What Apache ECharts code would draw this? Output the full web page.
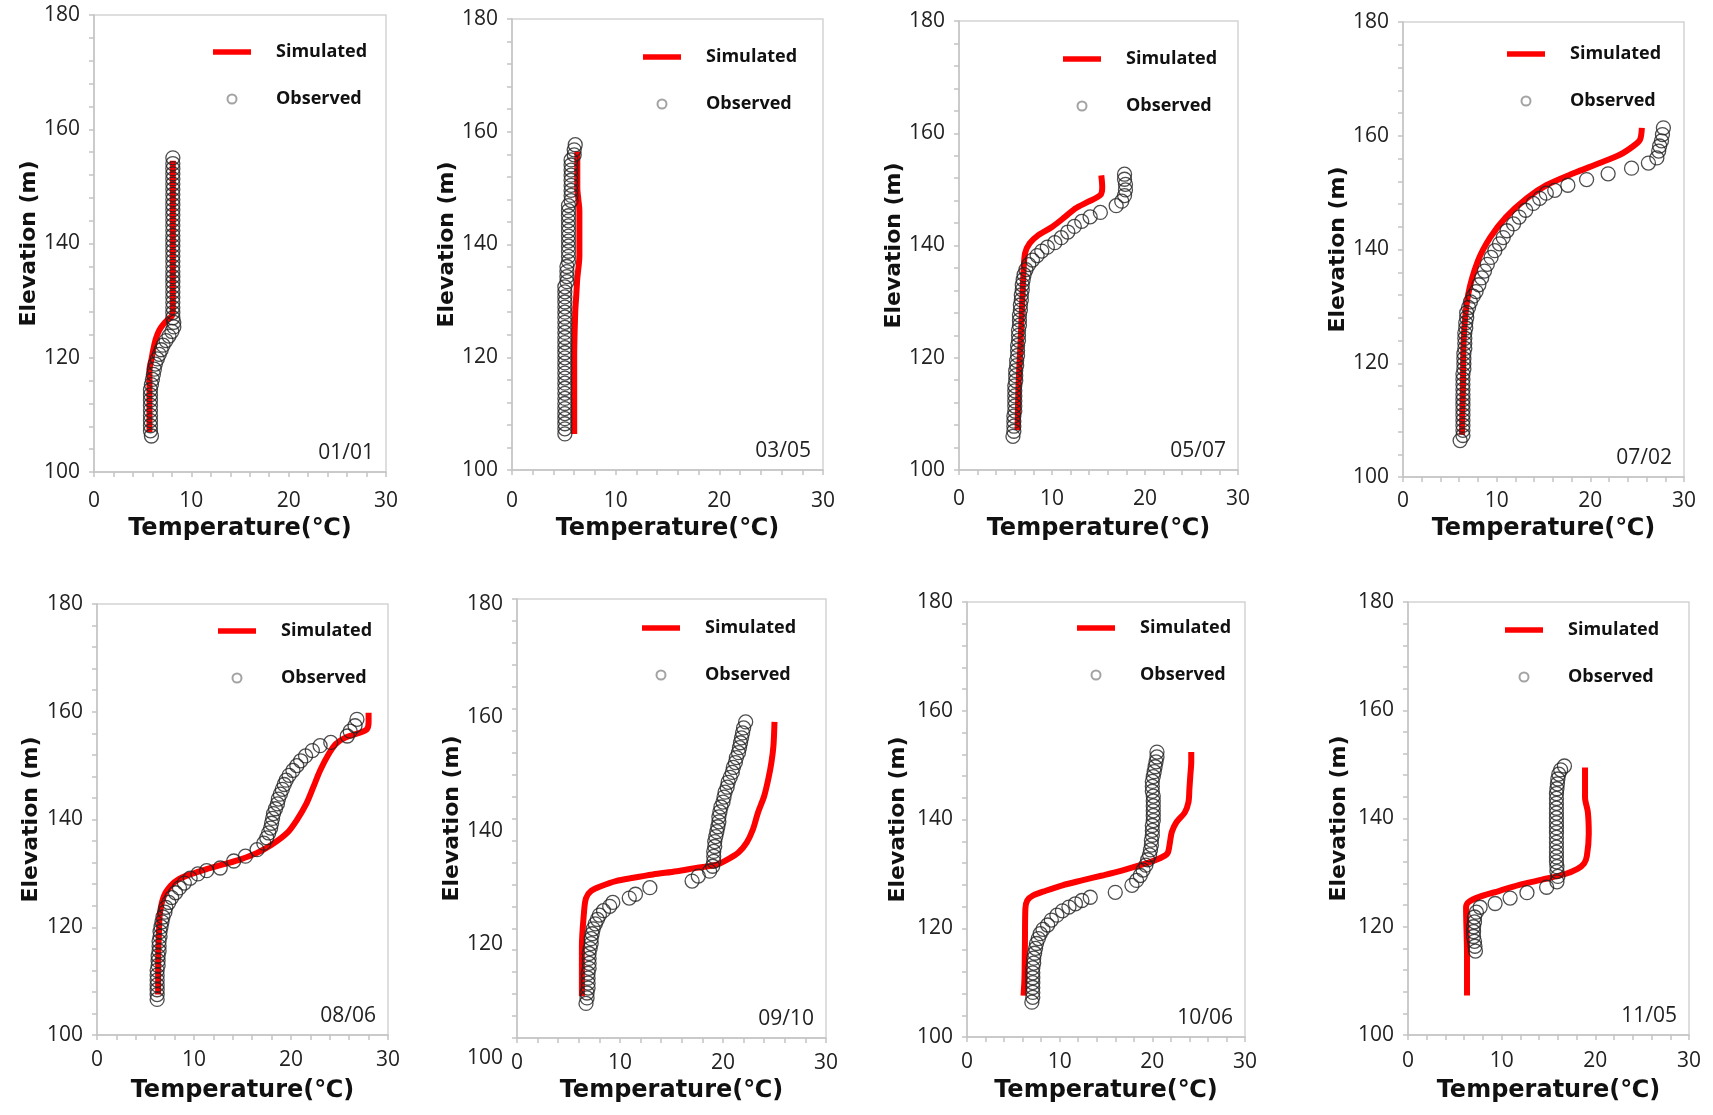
<!DOCTYPE html>
<html style="height: 100%">
<head>
<meta charset="utf-8">
<title>Temperature profiles</title>
</head>
<body style="height: 100%; margin: 0; background: #fff">
<div id="container" style="width: 1713px; height: 1115px"></div>
<script type="text/javascript" src="https://cdn.jsdelivr.net/npm/echarts@6.0.0/dist/echarts.min.js"></script>
<script type="text/javascript">
// axis ranges and tick steps
var tempMin = 0, tempMax = 30, tempStep = 10;
var elevMin = 100, elevMax = 180, elevStep = 20;

var dates = ['01/01', '03/05', '05/07', '07/02', '08/06', '09/10', '10/06', '11/05'];

// [temperature, elevation] pairs
var sim0101 = [[5.7,107],[5.7,113],[5.7,117.9],[5.9,119.7],[6.1,121.5],[6.35,123.3],[6.7,124.8],[7.1,125.8],[7.6,126.7],[8.0,127.3],[8.1,128.2],[8.1,154.5]];
var obs0101 = [[5.9,106.3],[5.8,107.2],[5.8,108.1],[5.8,109.0],[5.8,109.9],[5.8,110.8],[5.8,111.7],[5.8,112.6],[5.8,113.5],[5.8,114.4],[5.9,115.3],[6.0,116.2],[6.1,117.1],[6.2,118.0],[6.3,118.9],[6.5,119.8],[6.7,120.6],[6.9,121.4],[7.1,122.2],[7.4,123.0],[7.7,123.8],[8.0,124.6],[8.2,125.4],[8.2,126.2],[8.1,127.0],[8.1,127.9],[8.1,128.8],[8.1,129.7],[8.1,130.6],[8.1,131.5],[8.1,132.4],[8.1,133.3],[8.1,134.2],[8.1,135.1],[8.1,136.0],[8.1,136.9],[8.1,137.8],[8.1,138.7],[8.1,139.6],[8.1,140.5],[8.1,141.4],[8.1,142.3],[8.1,143.2],[8.1,144.1],[8.1,145.0],[8.1,145.9],[8.1,146.8],[8.1,147.7],[8.1,148.6],[8.1,149.5],[8.1,150.4],[8.1,151.3],[8.1,152.2],[8.1,153.1],[8.1,154.0],[8.1,155.0]];

var sim0305 = [[6.0,106.4],[6.0,120],[6.1,128],[6.2,131],[6.3,134],[6.5,138],[6.5,146],[6.4,148],[6.3,150],[6.3,156.5]];
var obs0305 = [[5.1,106.4],[5.1,107.3],[5.1,108.2],[5.1,109.1],[5.1,110.0],[5.1,110.9],[5.1,111.8],[5.1,112.7],[5.1,113.6],[5.1,114.5],[5.1,115.4],[5.1,116.3],[5.1,117.2],[5.1,118.1],[5.1,119.0],[5.1,119.9],[5.1,120.8],[5.1,121.7],[5.1,122.6],[5.1,123.5],[5.1,124.4],[5.1,125.3],[5.1,126.2],[5.1,127.1],[5.1,128.0],[5.1,128.9],[5.1,129.8],[5.1,130.7],[5.1,131.6],[5.1,132.5],[5.3,133.4],[5.3,134.3],[5.3,135.2],[5.3,136.1],[5.45,137.0],[5.45,137.9],[5.45,138.8],[5.45,139.7],[5.45,140.6],[5.45,141.5],[5.45,142.4],[5.45,143.3],[5.45,144.2],[5.45,145.1],[5.45,146.0],[5.45,146.9],[5.7,147.8],[5.7,148.7],[5.7,149.6],[5.7,150.5],[5.7,151.4],[5.7,152.3],[5.7,153.2],[5.7,154.1],[5.7,155.0],[6.0,155.9],[6.0,156.8],[6.1,157.7]];

var sim0507 = [[6.3,107.1],[6.4,115],[6.6,122],[6.8,130],[6.9,134],[7.1,138.6],[7.6,140.4],[8.5,141.8],[10.0,143.3],[11.4,145.1],[12.5,146.6],[13.9,147.8],[15.2,149],[15.4,150.4],[15.3,152.5]];
var obs0507 = [[5.8,106.0],[5.9,106.9],[5.9,107.8],[5.9,108.7],[5.9,109.6],[6.0,110.5],[6.0,111.4],[6.0,112.3],[6.0,113.2],[6.0,114.1],[6.0,115.0],[6.1,115.9],[6.1,116.8],[6.1,117.7],[6.2,118.6],[6.2,119.5],[6.3,120.4],[6.3,121.3],[6.3,122.2],[6.4,123.1],[6.4,124.0],[6.4,124.9],[6.5,125.8],[6.5,126.7],[6.5,127.6],[6.6,128.5],[6.6,129.4],[6.7,130.3],[6.7,131.2],[6.8,132.1],[6.8,133.0],[6.9,133.9],[7.0,134.8],[7.2,135.7],[7.5,136.6],[7.9,137.4],[8.4,138.2],[8.9,139.0],[9.5,139.7],[10.3,140.5],[11.0,141.4],[11.7,142.4],[12.4,143.4],[13.2,144.3],[14.1,145.1],[15.2,145.9],[16.9,147.1],[17.5,147.9],[17.8,148.9],[17.9,149.9],[17.9,150.9],[17.8,151.8],[17.8,152.7]];

var sim0702 = [[6.3,107.4],[6.4,116],[6.5,124.9],[6.95,132.0],[8.0,138.0],[9.3,142.1],[11.0,145.7],[13.2,149.0],[15.3,151.3],[18.2,153.4],[21.0,155.2],[23.2,156.7],[24.6,158.2],[25.3,159.3],[25.5,161.4]];
var obs0702 = [[6.1,106.4],[6.4,107.3],[6.4,108.2],[6.4,109.1],[6.4,110.0],[6.4,110.9],[6.4,111.8],[6.4,112.7],[6.4,113.6],[6.4,114.5],[6.4,115.4],[6.4,116.3],[6.4,117.2],[6.4,118.1],[6.5,119.0],[6.5,119.9],[6.5,120.8],[6.5,121.7],[6.6,122.6],[6.6,123.5],[6.6,124.4],[6.6,125.3],[6.7,126.2],[6.7,127.1],[6.8,128.0],[6.8,128.9],[7.0,129.8],[7.2,130.8],[7.5,131.8],[7.8,132.6],[8.1,133.8],[8.4,135.0],[8.7,136.2],[9.0,137.4],[9.4,138.6],[9.8,139.8],[10.3,141.0],[10.7,142.1],[11.1,143.3],[11.8,144.5],[12.4,145.7],[13.1,146.9],[13.9,148.1],[14.6,149.0],[15.3,149.9],[16.2,150.4],[17.6,151.3],[19.6,152.3],[21.9,153.3],[24.4,154.3],[26.2,155.2],[27.1,156.1],[27.3,157.3],[27.4,158.2],[27.6,159.1],[27.7,160.2],[27.8,161.4]];

var sim0806 = [[6.3,107.5],[6.3,113],[6.4,119.7],[6.5,122.8],[6.9,125.8],[7.6,127.7],[8.4,128.9],[9.6,129.8],[11.3,130.8],[13.1,131.7],[14.8,132.6],[16.5,133.8],[18.0,135.3],[19.6,137.5],[20.6,139.9],[21.6,143.0],[22.3,146.0],[23.0,149.1],[23.9,152.2],[24.6,154.0],[25.6,155.2],[27.1,156.1],[27.8,156.7],[28.0,158.0],[28.0,159.8]];
var obs0806 = [[6.2,106.6],[6.2,107.5],[6.2,108.4],[6.2,109.3],[6.2,110.2],[6.2,111.1],[6.2,112.0],[6.3,112.9],[6.3,113.8],[6.3,114.7],[6.4,115.6],[6.4,116.5],[6.4,117.4],[6.5,118.3],[6.5,119.2],[6.6,120.1],[6.7,121.0],[6.8,121.9],[7.0,122.8],[7.1,123.7],[7.4,124.6],[7.7,125.5],[8.1,126.4],[8.5,127.3],[9.0,128.2],[9.6,129.1],[10.4,129.9],[11.3,130.5],[12.7,131.0],[14.1,132.3],[15.3,133.2],[16.5,134.4],[17.2,135.6],[17.5,136.6],[17.7,137.5],[17.9,138.4],[18.0,139.3],[18.1,140.2],[18.2,141.1],[18.4,142.0],[18.6,142.9],[18.7,143.8],[18.9,144.7],[19.1,145.6],[19.3,146.5],[19.5,147.3],[19.8,148.2],[20.2,149.1],[20.6,150.0],[21.0,150.9],[21.5,151.8],[22.2,152.8],[23.0,153.7],[24.1,154.3],[25.8,155.5],[26.1,156.4],[26.6,157.4],[26.8,158.6]];

var sim0910 = [[6.3,107.6],[6.3,116.7],[6.5,122.8],[6.7,125.5],[7.2,126.8],[8.2,127.7],[9.6,128.6],[11.3,129.2],[13.2,129.8],[15.5,130.4],[17.4,131.0],[19.4,131.6],[20.5,132.6],[21.5,133.8],[22.3,135.6],[22.9,138.0],[23.4,141.1],[24.0,144.1],[24.4,147.2],[24.7,150.2],[24.9,153.3],[25.0,157.6]];
var obs0910 = [[6.7,106.3],[6.8,107.3],[6.8,108.2],[6.9,109.1],[6.9,110.0],[6.9,110.9],[6.9,111.8],[7.0,112.7],[7.0,113.6],[7.0,114.5],[7.0,115.4],[7.1,116.3],[7.2,117.2],[7.2,118.1],[7.3,119.0],[7.4,119.9],[7.6,120.8],[7.8,121.6],[8.0,122.4],[8.4,123.2],[9.0,124.0],[9.3,124.7],[10.9,125.5],[11.5,126.2],[12.9,127.4],[17.0,128.6],[17.6,129.5],[18.7,130.4],[19.0,131.3],[19.1,132.2],[19.1,133.1],[19.1,134.0],[19.2,134.9],[19.2,135.8],[19.3,136.7],[19.4,137.6],[19.5,138.5],[19.6,139.4],[19.6,140.3],[19.7,141.2],[19.8,142.1],[20.0,143.0],[20.1,143.9],[20.2,144.8],[20.4,145.7],[20.5,146.6],[20.7,147.5],[20.9,148.4],[21.0,149.3],[21.2,150.2],[21.3,151.1],[21.5,152.0],[21.6,152.9],[21.7,153.8],[21.8,154.7],[21.9,155.6],[22.0,156.5],[22.2,157.6]];

var sim1006 = [[6.1,107.6],[6.2,110.7],[6.25,116.8],[6.3,123.6],[6.5,125.1],[7.1,126.0],[8.5,126.9],[10.3,127.9],[12.4,128.8],[14.6,129.7],[16.7,130.6],[18.5,131.5],[20.3,132.5],[21.4,133.4],[21.7,134.0],[21.9,135.8],[22.1,137.7],[22.6,139.5],[23.5,141.3],[23.9,143.2],[24.0,145.6],[24.1,148.1],[24.2,150.6],[24.2,152.4]];
var obs1006 = [[7.0,106.4],[7.1,107.3],[7.1,108.2],[7.1,109.1],[7.1,110.0],[7.1,110.9],[7.1,111.8],[7.1,112.7],[7.2,113.6],[7.2,114.5],[7.3,115.4],[7.4,116.3],[7.5,117.2],[7.7,118.1],[7.9,119.0],[8.2,119.8],[8.7,120.6],[9.1,121.5],[9.7,122.4],[10.3,123.2],[11.0,123.9],[11.7,124.5],[12.4,125.1],[13.3,125.7],[16.0,126.6],[17.8,127.9],[18.3,128.8],[18.7,129.7],[19.0,130.7],[19.3,131.6],[19.5,132.6],[19.7,133.5],[19.8,134.4],[19.9,135.3],[19.9,136.2],[20.0,137.1],[20.0,138.0],[20.0,138.9],[20.1,139.8],[20.1,140.7],[20.1,141.6],[20.1,142.5],[20.1,143.4],[20.1,144.3],[20.0,145.2],[20.0,146.1],[20.0,147.0],[20.1,147.9],[20.2,148.8],[20.3,149.7],[20.4,150.6],[20.5,151.5],[20.5,152.4]];

var sim1105 = [[6.3,107.3],[6.3,115],[6.2,123.6],[6.5,124.6],[7.75,125.6],[9.7,126.6],[11.8,127.7],[14.3,128.7],[16.7,129.7],[18.1,130.7],[18.8,131.7],[19.1,133.1],[19.3,137.2],[19.2,141.2],[18.9,143.9],[18.9,149.4]];
var obs1105 = [[7.2,115.5],[7.15,116.4],[7.1,117.3],[7.0,118.2],[7.0,119.1],[7.0,120.0],[7.1,120.9],[7.1,121.8],[7.3,122.7],[7.7,123.6],[9.3,124.3],[10.9,125.3],[12.7,126.3],[14.8,127.3],[15.9,128.3],[16.0,129.3],[15.9,130.2],[15.9,131.1],[15.85,132.0],[15.85,132.9],[15.85,133.8],[15.85,134.7],[15.85,135.6],[15.85,136.5],[15.85,137.4],[15.85,138.3],[15.85,139.2],[15.85,140.1],[15.85,141.0],[15.85,141.9],[15.85,142.8],[15.85,143.7],[15.85,144.6],[15.9,145.5],[15.95,146.4],[16.0,147.3],[16.1,148.2],[16.3,149.0],[16.7,149.7]];

var simSets = [sim0101, sim0305, sim0507, sim0702, sim0806, sim0910, sim1006, sim1105];
var obsSets = [obs0101, obs0305, obs0507, obs0702, obs0806, obs0910, obs1006, obs1105];

// panel boxes in page pixels; legend offset inside each box; axis label/name gaps
var boxes = [
    {left: 94,   top: 15,  width: 292, height: 457, legX: 119, legY: 38, yGap: 52, xGap: 45, xLab: 19},
    {left: 512,  top: 19,  width: 311, height: 451, legX: 131, legY: 39, yGap: 49, xGap: 47, xLab: 21},
    {left: 959,  top: 21,  width: 279, height: 449, legX: 104, legY: 39, yGap: 50, xGap: 47, xLab: 19},
    {left: 1403, top: 22,  width: 281, height: 455, legX: 104, legY: 33, yGap: 53, xGap: 40, xLab: 14},
    {left: 97,   top: 604, width: 291, height: 431, legX: 121, legY: 28, yGap: 55, xGap: 44, xLab: 15},
    {left: 517,  top: 599, width: 309, height: 439, legX: 125, legY: 30, yGap: 54, xGap: 41, xLab: 15},
    {left: 967,  top: 602, width: 278, height: 435, legX: 110, legY: 27, yGap: 58, xGap: 42, xLab: 15},
    {left: 1408, top: 602, width: 281, height: 433, legX: 97,  legY: 29, yGap: 58, xGap: 44, xLab: 16}
];

var gray = '#c4c4c4';
var tickFont = {fontFamily: 'Open Sans', fontSize: 21, color: '#222'};
var xNameFont = {fontFamily: 'DejaVu Sans', fontWeight: 'bold', fontSize: 24, color: '#111'};
var yNameFont = {fontFamily: 'DejaVu Sans', fontWeight: 'bold', fontSize: 22, color: '#111'};

var dom = document.getElementById("container");
var myChart = echarts.init(dom);
var option = null;

var grids = [], xAxes = [], yAxes = [], series = [], legends = [], titles = [];

for (var i = 0; i < boxes.length; i++) {
    var b = boxes[i];
    grids.push({
        left: b.left, top: b.top, width: b.width, height: b.height,
        outerBoundsMode: 'none',
        show: true, borderColor: '#d4d4d4', borderWidth: 1.5, backgroundColor: '#fff'
    });
    xAxes.push({
        gridIndex: i, type: 'value', min: tempMin, max: tempMax, interval: tempStep,
        name: 'Temperature(℃)', nameLocation: 'middle', nameGap: b.xGap,
        nameTextStyle: xNameFont,
        axisLine: {show: true, onZero: false, lineStyle: {color: gray, width: 1.5}},
        axisTick: {show: true, inside: false, length: 5, lineStyle: {color: gray, width: 1.5}},
        minorTick: {show: true, splitNumber: 5, length: 5, lineStyle: {color: gray, width: 1.5}},
        axisLabel: Object.assign({margin: b.xLab}, tickFont),
        splitLine: {show: false}
    });
    yAxes.push({
        gridIndex: i, type: 'value', min: elevMin, max: elevMax, interval: elevStep,
        name: 'Elevation (m)', nameLocation: 'middle', nameRotate: 90, nameGap: b.yGap,
        nameTextStyle: yNameFont,
        axisLine: {show: true, onZero: false, lineStyle: {color: gray, width: 1.5}},
        axisTick: {show: true, inside: false, length: 5, lineStyle: {color: gray, width: 1.5}},
        minorTick: {show: true, splitNumber: 5, length: 5, lineStyle: {color: gray, width: 1.5}},
        axisLabel: Object.assign({margin: 14, show: i !== 5}, tickFont),
        splitLine: {show: false}
    });
    series.push({
        name: 'Simulated', type: 'line', xAxisIndex: i, yAxisIndex: i,
        data: simSets[i], symbol: 'none', smooth: 0.3, silent: true, z: 2,
        lineStyle: {color: '#ff0000', width: 6},
        itemStyle: {color: '#ff0000'}
    });
    series.push({
        name: 'Observed', type: 'scatter', xAxisIndex: i, yAxisIndex: i,
        data: obsSets[i], symbol: 'circle', symbolSize: 14, silent: true, z: 3,
        itemStyle: {color: 'rgba(0,0,0,0)', borderColor: '#222', borderWidth: 1.3}
    });
    legends.push({
        left: b.left + b.legX, top: b.top + b.legY - 10, orient: 'vertical',
        itemWidth: 38, itemHeight: 9, itemGap: 29, selectedMode: false, padding: 0,
        symbolKeepAspect: true,
        textStyle: {fontFamily: 'Open Sans', fontWeight: 'bold', fontSize: 18, color: '#111', padding: [0, 0, 0, 20]},
        data: [
            {name: 'Simulated', icon: 'path://M0,0H40V6H0Z', itemStyle: {color: '#ff0000', borderWidth: 0}},
            {name: 'Observed', icon: 'circle', itemStyle: {color: 'rgba(0,0,0,0)', borderColor: '#8c8c8c', borderWidth: 2}}
        ]
    });
    titles.push({
        text: dates[i], right: 1713 - (b.left + b.width) + 12, top: b.top + b.height - 29, padding: 0,
        textStyle: {fontFamily: 'Open Sans', fontWeight: 'normal', fontSize: 21, color: '#222'}
    });
}

// 09/10 panel: its elevation labels sit on a slightly taller scale than its plot box
grids.push({left: 517, top: 604, width: 309, height: 454, outerBoundsMode: 'none', show: false});
xAxes.push({gridIndex: 8, type: 'value', min: tempMin, max: tempMax, show: false});
yAxes.push({
    gridIndex: 8, type: 'value', min: elevMin, max: elevMax, interval: elevStep,
    axisLine: {show: false}, axisTick: {show: false}, splitLine: {show: false},
    axisLabel: Object.assign({margin: 14}, tickFont)
});

option = {
    backgroundColor: '#fff',
    animation: false,
    title: titles,
    legend: legends,
    grid: grids,
    xAxis: xAxes,
    yAxis: yAxes,
    series: series
};
if (option && typeof option === "object") {
    myChart.setOption(option, true);
}
</script>
</body>
</html>
